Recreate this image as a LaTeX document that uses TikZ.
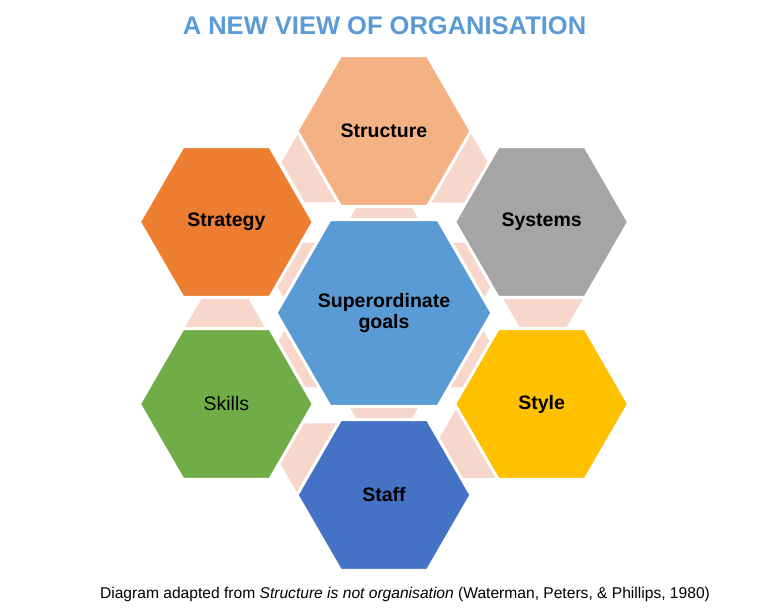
\documentclass[tikz,border=0pt]{standalone}
\usepackage{fontspec}
\setmainfont{Liberation Sans}
\usetikzlibrary{shapes.geometric}
\definecolor{titleblue}{RGB}{91,155,213}
\definecolor{linkpink}{RGB}{247,214,204}
\definecolor{goalsblue}{RGB}{91,155,213}
\definecolor{structurepeach}{RGB}{244,177,131}
\definecolor{strategyorange}{RGB}{237,125,49}
\definecolor{systemsgray}{RGB}{165,165,165}
\definecolor{stylegold}{RGB}{255,192,0}
\definecolor{staffblue}{RGB}{68,114,196}
\definecolor{skillsgreen}{RGB}{112,173,71}
\begin{document}
\begin{tikzpicture}[x=1pt,y=1pt]
\tikzstyle{hexa}=[regular polygon,regular polygon sides=6,inner sep=0pt,draw=white,line width=3pt,
  text=black,align=center,font=\fontsize{19.5}{21}\selectfont\bfseries]
\tikzstyle{outer}=[hexa,minimum size=174pt]
\tikzstyle{link}=[regular polygon,regular polygon sides=6,inner sep=0pt,fill=linkpink]
\useasboundingbox (-384,-299) rectangle (384,313);

% pale links between neighbouring hexagons
\foreach \ang/\rad [count=\i] in {110.5/161,68.9/161,8.9/161,309.1/161,248.9/161,188.9/161}
  \node[link,minimum size=92pt] (ring\i) at (\ang:\rad pt) {};
\foreach \x/\y/\sz [count=\i] in {0/60/108,57/27/100,57/-31/100,0/-60/108,-57/-31/100,-57/27/100}
  \node[link,minimum size=\sz pt] (spoke\i) at (\x,\y) {};

\node[hexa,minimum size=212pt,fill=goalsblue] (goals) at (0,0) {Superordinate\\goals};
\node[outer,fill=structurepeach] (structure) at (90:182pt) {Structure};
\node[outer,fill=systemsgray] (systems) at (30:182pt) {Systems};
\node[outer,fill=stylegold] (style) at (330:182pt) {Style};
\node[outer,fill=staffblue] (staff) at (270:182pt) {Staff};
\node[outer,fill=skillsgreen,font=\fontsize{19.5}{21}\selectfont] (skills) at (210:182pt) {Skills};
\node[outer,fill=strategyorange] (strategy) at (150:182pt) {Strategy};

\node[text=titleblue,font=\fontsize{25.5}{30}\selectfont\bfseries] (title) at (0.5,287) {A NEW VIEW OF ORGANISATION};
\node[font=\fontsize{15.6}{18}\selectfont] (caption) at (21,-281)
  {Diagram adapted from \textit{Structure is not organisation} (Waterman, Peters, \& Phillips, 1980)};
\end{tikzpicture}
\end{document}
